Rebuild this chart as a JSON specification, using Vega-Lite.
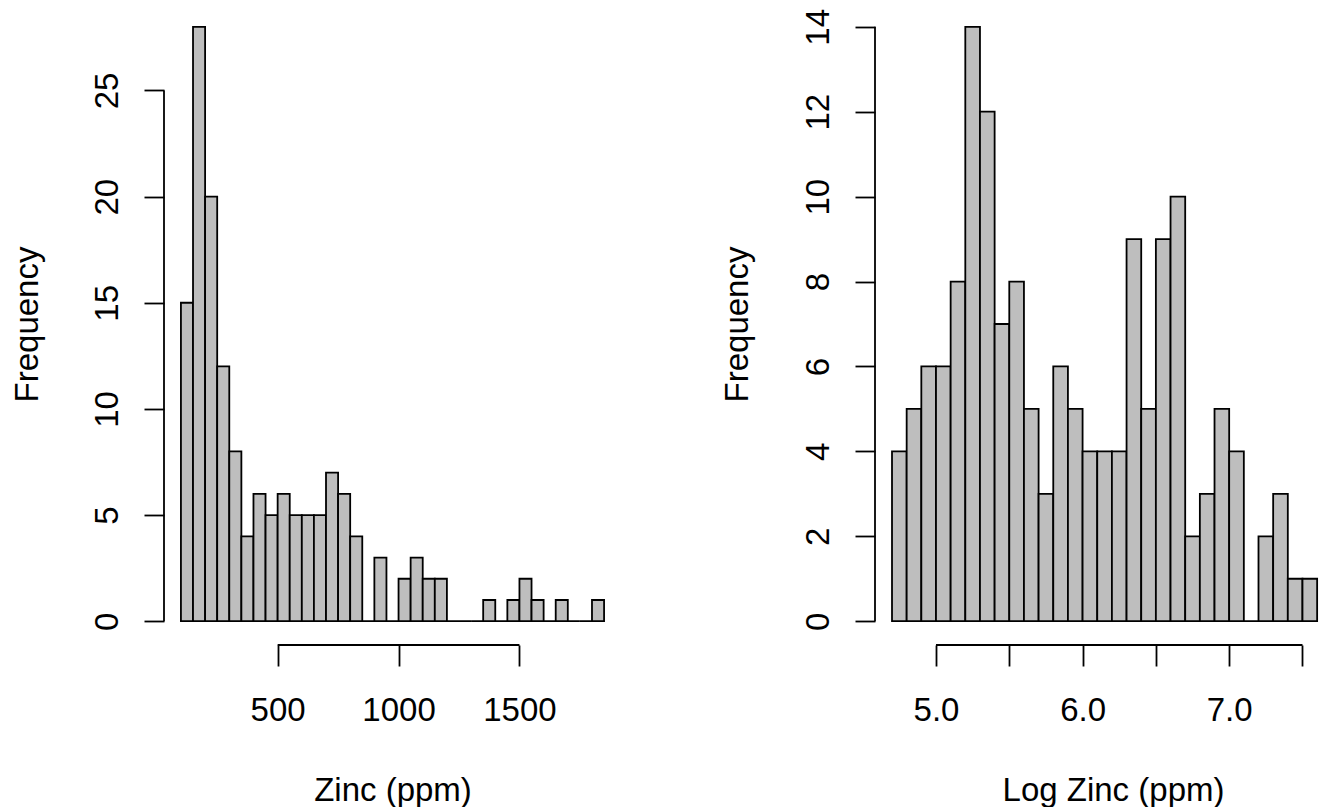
{
  "$schema": "https://vega.github.io/schema/vega-lite/v6.json",
  "padding": {"left": 11, "top": 3, "right": 0, "bottom": 0},
  "background": "white",
  "bounds": "flush",
  "spacing": 254,
  "config": {
    "view": {"stroke": null},
    "axis": {
      "labelFont": "Liberation Sans", "titleFont": "Liberation Sans",
      "labelFontSize": 33, "titleFontSize": 33,
      "labelColor": "black", "titleColor": "black", "titleFontWeight": "normal",
      "tickColor": "black", "tickWidth": 1.8, "domain": false, "grid": false,
      "labelOverlap": false, "labelFlush": false, "labelBound": false
    }
  },
  "datasets": {
    "zinc": [
      {"bin_start": 100, "bin_end": 150, "count": 15},
      {"bin_start": 150, "bin_end": 200, "count": 28},
      {"bin_start": 200, "bin_end": 250, "count": 20},
      {"bin_start": 250, "bin_end": 300, "count": 12},
      {"bin_start": 300, "bin_end": 350, "count": 8},
      {"bin_start": 350, "bin_end": 400, "count": 4},
      {"bin_start": 400, "bin_end": 450, "count": 6},
      {"bin_start": 450, "bin_end": 500, "count": 5},
      {"bin_start": 500, "bin_end": 550, "count": 6},
      {"bin_start": 550, "bin_end": 600, "count": 5},
      {"bin_start": 600, "bin_end": 650, "count": 5},
      {"bin_start": 650, "bin_end": 700, "count": 5},
      {"bin_start": 700, "bin_end": 750, "count": 7},
      {"bin_start": 750, "bin_end": 800, "count": 6},
      {"bin_start": 800, "bin_end": 850, "count": 4},
      {"bin_start": 850, "bin_end": 900, "count": 0},
      {"bin_start": 900, "bin_end": 950, "count": 3},
      {"bin_start": 950, "bin_end": 1000, "count": 0},
      {"bin_start": 1000, "bin_end": 1050, "count": 2},
      {"bin_start": 1050, "bin_end": 1100, "count": 3},
      {"bin_start": 1100, "bin_end": 1150, "count": 2},
      {"bin_start": 1150, "bin_end": 1200, "count": 2},
      {"bin_start": 1200, "bin_end": 1250, "count": 0},
      {"bin_start": 1250, "bin_end": 1300, "count": 0},
      {"bin_start": 1300, "bin_end": 1350, "count": 0},
      {"bin_start": 1350, "bin_end": 1400, "count": 1},
      {"bin_start": 1400, "bin_end": 1450, "count": 0},
      {"bin_start": 1450, "bin_end": 1500, "count": 1},
      {"bin_start": 1500, "bin_end": 1550, "count": 2},
      {"bin_start": 1550, "bin_end": 1600, "count": 1},
      {"bin_start": 1600, "bin_end": 1650, "count": 0},
      {"bin_start": 1650, "bin_end": 1700, "count": 1},
      {"bin_start": 1700, "bin_end": 1750, "count": 0},
      {"bin_start": 1750, "bin_end": 1800, "count": 0},
      {"bin_start": 1800, "bin_end": 1850, "count": 1}
    ],
    "logzinc": [
      {"bin_start": 4.7, "bin_end": 4.8, "count": 4},
      {"bin_start": 4.8, "bin_end": 4.9, "count": 5},
      {"bin_start": 4.9, "bin_end": 5.0, "count": 6},
      {"bin_start": 5.0, "bin_end": 5.1, "count": 6},
      {"bin_start": 5.1, "bin_end": 5.2, "count": 8},
      {"bin_start": 5.2, "bin_end": 5.3, "count": 14},
      {"bin_start": 5.3, "bin_end": 5.4, "count": 12},
      {"bin_start": 5.4, "bin_end": 5.5, "count": 7},
      {"bin_start": 5.5, "bin_end": 5.6, "count": 8},
      {"bin_start": 5.6, "bin_end": 5.7, "count": 5},
      {"bin_start": 5.7, "bin_end": 5.8, "count": 3},
      {"bin_start": 5.8, "bin_end": 5.9, "count": 6},
      {"bin_start": 5.9, "bin_end": 6.0, "count": 5},
      {"bin_start": 6.0, "bin_end": 6.1, "count": 4},
      {"bin_start": 6.1, "bin_end": 6.2, "count": 4},
      {"bin_start": 6.2, "bin_end": 6.3, "count": 4},
      {"bin_start": 6.3, "bin_end": 6.4, "count": 9},
      {"bin_start": 6.4, "bin_end": 6.5, "count": 5},
      {"bin_start": 6.5, "bin_end": 6.6, "count": 9},
      {"bin_start": 6.6, "bin_end": 6.7, "count": 10},
      {"bin_start": 6.7, "bin_end": 6.8, "count": 2},
      {"bin_start": 6.8, "bin_end": 6.9, "count": 3},
      {"bin_start": 6.9, "bin_end": 7.0, "count": 5},
      {"bin_start": 7.0, "bin_end": 7.1, "count": 4},
      {"bin_start": 7.1, "bin_end": 7.2, "count": 0},
      {"bin_start": 7.2, "bin_end": 7.3, "count": 2},
      {"bin_start": 7.3, "bin_end": 7.4, "count": 3},
      {"bin_start": 7.4, "bin_end": 7.5, "count": 1},
      {"bin_start": 7.5, "bin_end": 7.6, "count": 1}
    ]
  },
  "hconcat": [
    {
      "width": 457,
      "height": 642,
      "layer": [
        {
          "data": {"name": "zinc"},
          "mark": {"type": "rect", "fill": "#BEBEBE", "stroke": "black", "strokeWidth": 1.8},
          "encoding": {
            "x": {
              "field": "bin_start", "type": "quantitative",
              "scale": {"domain": [30, 1920], "nice": false, "zero": false},
              "axis": {
                "title": "Zinc (ppm)", "values": [500, 1000, 1500], "format": "d",
                "tickSize": 21, "labelPadding": 28, "labelBaseline": "top", "labelAlign": "center", "labelAngle": 0,
                "titleY": 155, "titleBaseline": "alphabetic"
              }
            },
            "x2": {"field": "bin_end"},
            "y": {
              "field": "count", "type": "quantitative",
              "scale": {"domain": [-1.12, 29.12], "nice": false, "zero": false},
              "axis": {
                "title": "Frequency", "values": [0, 5, 10, 15, 20, 25], "format": "d",
                "tickSize": 20, "labelAngle": -90, "labelAlign": "center", "labelBaseline": "alphabetic", "labelPadding": 27,
                "titleX": -127, "titleAngle": -90, "titleBaseline": "alphabetic", "titleAlign": "center"
              }
            },
            "y2": {"datum": 0}
          }
        },
        {
          "data": {"values": [{}]},
          "mark": {"type": "rule", "color": "black", "strokeWidth": 1.8},
          "encoding": {"x": {"datum": 500}, "x2": {"datum": 1500}, "y": {"datum": -1.12}}
        },
        {
          "data": {"values": [{}]},
          "mark": {"type": "rule", "color": "black", "strokeWidth": 1.8},
          "encoding": {"x": {"datum": 30}, "y": {"datum": 0}, "y2": {"datum": 25}}
        }
      ]
    },
    {
      "width": 448,
      "height": 642,
      "layer": [
        {
          "data": {"name": "logzinc"},
          "mark": {"type": "rect", "fill": "#BEBEBE", "stroke": "black", "strokeWidth": 1.8},
          "encoding": {
            "x": {
              "field": "bin_start", "type": "quantitative",
              "scale": {"domain": [4.584, 7.64], "nice": false, "zero": false},
              "axis": {
                "title": "Log Zinc (ppm)", "values": [5, 5.5, 6, 6.5, 7, 7.5],
                "labelExpr": "datum.value % 1 === 0 ? format(datum.value, '.1f') : ''",
                "tickSize": 21, "labelPadding": 28, "labelBaseline": "top", "labelAlign": "center", "labelAngle": 0,
                "titleX": 238, "titleY": 155, "titleBaseline": "alphabetic"
              }
            },
            "x2": {"field": "bin_end"},
            "y": {
              "field": "count", "type": "quantitative",
              "scale": {"domain": [-0.56, 14.56], "nice": false, "zero": false},
              "axis": {
                "title": "Frequency", "values": [0, 2, 4, 6, 8, 10, 12, 14], "format": "d",
                "tickSize": 20, "labelAngle": -90, "labelAlign": "center", "labelBaseline": "alphabetic", "labelPadding": 27,
                "titleX": -128, "titleAngle": -90, "titleBaseline": "alphabetic", "titleAlign": "center"
              }
            },
            "y2": {"datum": 0}
          }
        },
        {
          "data": {"values": [{}]},
          "mark": {"type": "rule", "color": "black", "strokeWidth": 1.8},
          "encoding": {"x": {"datum": 5}, "x2": {"datum": 7.5}, "y": {"datum": -0.56}}
        },
        {
          "data": {"values": [{}]},
          "mark": {"type": "rule", "color": "black", "strokeWidth": 1.8},
          "encoding": {"x": {"datum": 4.584}, "y": {"datum": 0}, "y2": {"datum": 14}}
        }
      ]
    }
  ]
}
